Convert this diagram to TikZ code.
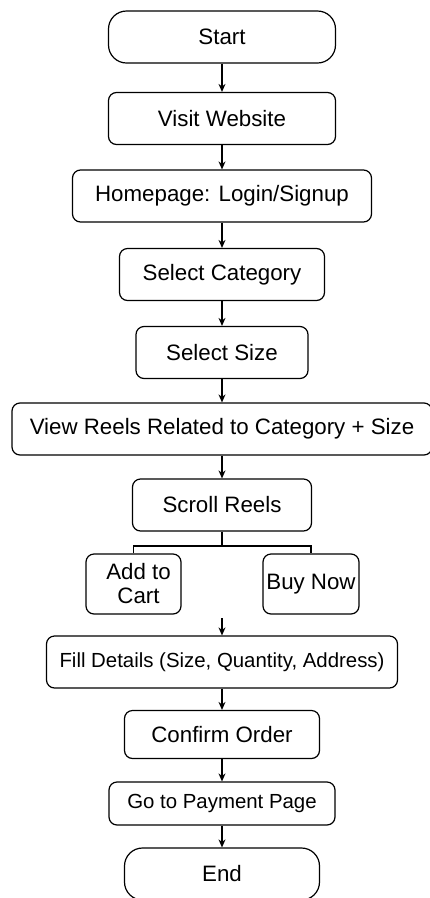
\documentclass[tikz,border=0pt]{standalone}
\usepackage{fontspec}
\setmainfont{Liberation Sans}
\usetikzlibrary{positioning,arrows.meta}

\tikzset{
  box/.style={draw, rounded corners=8pt, line width=1.2pt, inner sep=0pt,
    minimum height=52pt, align=center, font=\fontsize{22.3}{24}\selectfont},
  terminal/.style={box, rounded corners=18pt},
  narrow/.style={font=\fontsize{20.4}{24}\selectfont},
  flow/.style={-{Stealth[length=8pt,width=7pt]}, line width=1.2pt},
  link/.style={line width=1.2pt}
}

\begin{document}
\begin{tikzpicture}[x=1pt,y=1pt,node distance=78pt,on grid]
  \path[use as bounding box] (0,0) rectangle (430,-898);

  % main column
  \node[terminal, minimum width=227pt] (start) at (222,-37) {Start};
  \node[box, minimum width=227pt] (visit) [below=81.5pt of start] {Visit Website};
  \node[box, minimum width=299pt] (home) [below=77.5pt of visit] {Homepage: Login/Signup};
  \node[box, minimum width=205pt] (cat) [below=78.5pt of home] {Select Category};
  \node[box, minimum width=172pt] (size) [below=of cat] {Select Size};
  \node[box, minimum width=420pt] (view) [below=76.5pt of size] {View Reels Related to Category + Size};
  \node[box, minimum width=179pt] (scroll) [below=76pt of view] {Scroll Reels};

  % the two choices
  \node[box, minimum width=95pt, minimum height=60pt] (cart) [below left=79pt and 88.5pt of scroll] {\hspace*{10pt}Add to\\\hspace*{10pt}Cart};
  \node[box, minimum width=96pt, minimum height=60pt] (buy) [below right=79pt and 89pt of scroll] {Buy Now};
  \coordinate[below=41pt of scroll] (split);
  \coordinate[below=113pt of scroll] (merge);

  \node[box, narrow, minimum width=351pt] (fill) [below=157pt of scroll] {Fill Details (Size, Quantity, Address)};
  \node[box, minimum width=195pt, minimum height=48pt] (confirm) [below=72.5pt of fill] {Confirm Order};
  \node[box, narrow, minimum width=226pt, minimum height=43pt] (pay) [below=69pt of confirm] {Go to Payment Page};
  \node[terminal, minimum width=195pt] (end) [below=70.5pt of pay] {End};

  \path[flow]
    (start) edge (visit)
    (visit) edge (home)
    (home) edge (cat)
    (cat) edge (size)
    (size) edge (view)
    (view) edge (scroll)
    (merge) edge (fill)
    (fill) edge (confirm)
    (confirm) edge (pay)
    (pay) edge (end);

  \draw[link] (scroll) -- (split);
  \draw[link] (cart.north) |- (split) -| (buy.north);
\end{tikzpicture}
\end{document}
